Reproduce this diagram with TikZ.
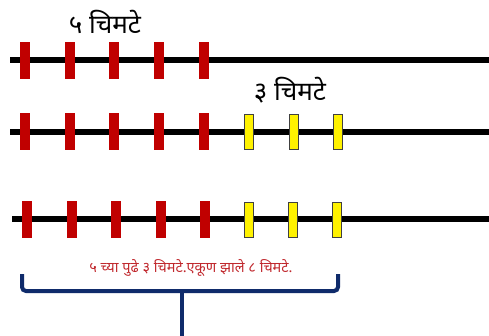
\documentclass[tikz,border=0pt]{standalone}
\usepackage{fontspec}
\newfontfamily\devfont[Script=Devanagari]{Noto Sans}
\definecolor{myred}{HTML}{C00000}
\definecolor{txtred}{HTML}{C0282D}
\definecolor{navy}{HTML}{0F2B6B}
\tikzset{
  rod/.style={line width=6pt},
  redmark/.style={fill=myred, minimum width=10pt, minimum height=37pt, inner sep=0pt, draw=none},
  yelmark/.style={fill=yellow, draw=black!75, line width=1pt, minimum width=9pt, minimum height=35pt, inner sep=0pt},
  biglabel/.style={font=\devfont\fontsize{26}{30}\selectfont, inner sep=0pt},
  smalllabel/.style={font=\devfont\fontsize{14.5}{17}\selectfont, text=txtred, inner sep=0pt},
  brace/.style={draw=navy, line width=4pt, rounded corners=4pt}
}
\begin{document}
\begin{tikzpicture}[x=1pt,y=-1pt]
\useasboundingbox (0,0) rectangle (489,336);
% line 1
\coordinate (l1a) at (10,60); \coordinate (l1b) at (489,60);
\draw[rod] (l1a) -- (l1b);
\foreach \i/\x in {1/25,2/70,3/114,4/159,5/204}{\node[redmark] (r1\i) at (\x,60.5) {};}
\node[biglabel] (t1) at (105,22) {५ चिमटे};
% line 2
\coordinate (l2a) at (10,132); \coordinate (l2b) at (489,132);
\draw[rod] (l2a) -- (l2b);
\foreach \i/\x in {1/25,2/70,3/114,4/159,5/204}{\node[redmark] (r2\i) at (\x,132) {};}
\foreach \i/\x in {1/249,2/294,3/338}{\node[yelmark] (y2\i) at (\x,132) {};}
\node[biglabel] (t2) at (290,90) {३ चिमटे};
% line 3
\coordinate (l3a) at (12,219); \coordinate (l3b) at (489,219);
\draw[rod] (l3a) -- (l3b);
\foreach \i/\x in {1/27,2/72,3/116,4/161,5/205}{\node[redmark] (r3\i) at (\x,220) {};}
\foreach \i/\x in {1/249,2/293,3/337}{\node[yelmark] (y3\i) at (\x,220) {};}
\node[smalllabel] (t3) at (191,268) {५ च्या पुढे ३ चिमटे.एकूण  झाले ८ चिमटे.};
% brace
\coordinate (bl) at (22,274); \coordinate (br) at (338,274);
\coordinate (bm) at (182,291); \coordinate (bs) at (182,336);
\draw[brace] (bl) -- (22,291) -- (338,291) -- (br);
\draw[draw=navy, line width=4pt] (bm) -- (bs);
\end{tikzpicture}
\end{document}
